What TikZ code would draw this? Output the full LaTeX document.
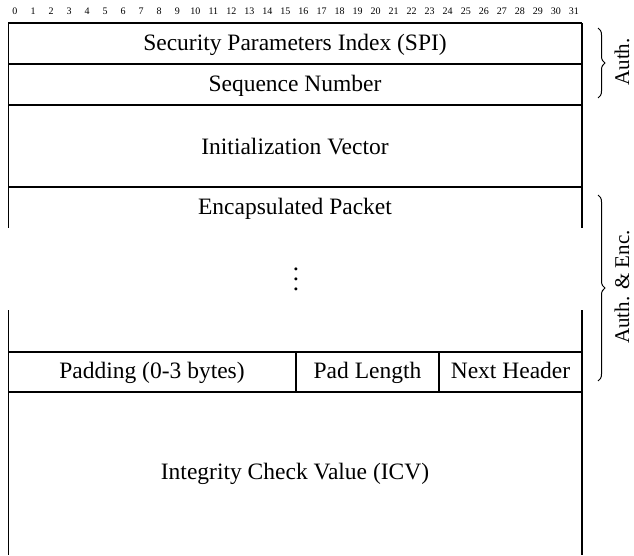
\documentclass[tikz,border=0pt]{standalone}
\usepackage{fontspec}
\usepackage{graphicx}
\setmainfont{Liberation Serif}
\usetikzlibrary{decorations.pathreplacing}
\begin{document}
\begin{tikzpicture}[x=1pt,y=-1pt,
  frame/.style={line width=1.1pt,black},
  lbl/.style={inner sep=0pt,text height=16pt,text depth=5pt,font=\fontsize{23.5}{28}\selectfont},
  bitlbl/.style={inner sep=0pt,font=\fontsize{10}{11}\selectfont},
  side/.style={inner sep=0pt,font=\fontsize{21}{25}\selectfont,rotate=90},
  bracedeco/.style={decorate,decoration={brace,amplitude=7pt},line width=1pt}]
\useasboundingbox (0,0) rectangle (634,555);
% bit numbers
\foreach \i in {0,...,31}{
  \node[bitlbl] (bit\i) at ({15+18.03*\i},11) {\i};
}
% frame lines
\draw[frame] (8.3,23) -- (582,23);
\draw[frame] (8.3,64) -- (582,64);
\draw[frame] (8.3,105) -- (582,105);
\draw[frame] (8.3,187) -- (582,187);
\draw[frame] (8.3,352) -- (582,352);
\draw[frame] (8.3,392) -- (582,392);
\draw[frame] (8.3,23) -- (8.3,228);
\draw[frame] (8.3,310) -- (8.3,555);
\draw[frame] (582,23) -- (582,228);
\draw[frame] (582,310) -- (582,555);
\draw[frame] (296,352) -- (296,392);
\draw[frame] (439,352) -- (439,392);
% labels
\node[lbl] (spi) at (295,45) {Security Parameters Index (SPI)};
\node[lbl] (seq) at (295,86) {Sequence Number};
\node[lbl] (iv) at (295,149) {Initialization Vector};
\node[lbl] (enc) at (295,209) {Encapsulated Packet};
\node[inner sep=0pt] (dots) at (296,272) {\scalebox{2.5}{$\vdots$}};
\node[lbl] (pad) at (152,373) {Padding (0-3 bytes)};
\node[lbl] (padlen) at (367.5,373) {Pad Length};
\node[lbl] (nh) at (510.5,373) {Next Header};
\node[lbl] (icv) at (295,474) {Integrity Check Value (ICV)};
% braces
\coordinate (a1) at (598,28);
\coordinate (a2) at (598,98);
\draw[bracedeco] (a1) -- (a2);
\node[side] (auth) at (622,62) {Auth.};
\coordinate (b1) at (598,195);
\coordinate (b2) at (598,381);
\draw[bracedeco] (b1) -- (b2);
\node[side] (authenc) at (622,287) {Auth. \& Enc.};
\end{tikzpicture}
\end{document}
